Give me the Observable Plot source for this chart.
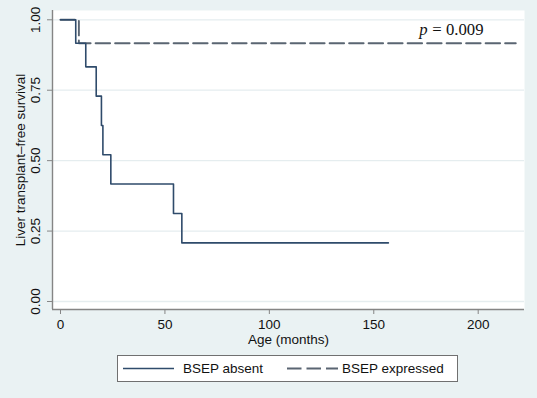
<!DOCTYPE html>
<html><head><meta charset="utf-8">
<script src="https://cdn.jsdelivr.net/npm/d3@7"></script>
<script src="https://cdn.jsdelivr.net/npm/@observablehq/plot@0.6"></script>
<style>
html,body{margin:0;padding:0;background:#eaf2f3;}
#wrap{position:relative;width:537px;height:398px;overflow:hidden;font-family:"Liberation Sans",Arial,sans-serif;}
#chart svg{display:block;}
#legend{position:absolute;left:117px;top:355px;width:341px;height:27px;box-sizing:border-box;border:1px solid #707070;background:#fff;font-size:13.5px;color:#111;}
.sw{position:absolute;top:0;}
.lab{position:absolute;top:0;line-height:25px;white-space:nowrap;}
</style></head><body>
<div id="wrap"><div id="chart"></div><div id="legend"></div></div>
<script>
// ---- data ----
const seriesNames = ["BSEP absent", "BSEP expressed"];
const absentMonths = [0, 7.3, 12.1, 17.1, 19.6, 20.3, 24.1, 54.1, 58.1, 157];
const absentSurvival = [1, 0.917, 0.833, 0.729, 0.625, 0.521, 0.417, 0.3125, 0.208, 0.208];
const expressedMonths = [0, 8.8, 218];
const expressedSurvival = [1, 0.917, 0.917];
const xTicks = [0, 50, 100, 150, 200];
const yTicks = [0, 0.25, 0.5, 0.75, 1];
const xLabel = "Age (months)";
const yLabel = "Liver transplant\u2013free survival";
const pName = "p";
const pValueText = "= 0.009";

// ---- styles ----
const axisColor = "#858585";
const solidColor = "#2f4b6b";
const dashColor = "#5a6572";
const dashPattern = "14.5,5";
const sans = "'Liberation Sans', Arial, sans-serif";
const serif = "'Liberation Serif', 'Times New Roman', serif";
const xDomain = [-3.83, 222.17];
const yDomain = [-0.0284, 1.033];

const absent = absentMonths.map((m, i) => ({month: m, survival: absentSurvival[i], group: seriesNames[0]}));
const expressed = expressedMonths.map((m, i) => ({month: m, survival: expressedSurvival[i], group: seriesNames[1]}));

const chart = Plot.plot({
  width: 537, height: 350,
  marginLeft: 52, marginRight: 13, marginTop: 10, marginBottom: 41,
  style: {background: "transparent", fontFamily: sans, fontSize: "13.5px", color: "#111", overflow: "visible"},
  x: {domain: xDomain},
  y: {domain: yDomain},
  marks: [
    Plot.frame({fill: "white", stroke: "none"}),
    Plot.gridY(yTicks, {stroke: "#e5edef", strokeOpacity: 1, strokeWidth: 1.3}),
    Plot.ruleX([xDomain[0]], {stroke: axisColor, strokeWidth: 1.4}),
    Plot.ruleY([yDomain[0]], {stroke: axisColor, strokeWidth: 1.4}),
    Plot.axisY(yTicks, {tickSize: 5, tickFormat: () => "", stroke: axisColor, label: null}),
    Plot.text(yTicks, {y: d => d, frameAnchor: "left", dx: -17, rotate: -90, text: d3.format(".2f"),
      textAnchor: "middle", lineAnchor: "middle", fontSize: 13.5, fill: "#111"}),
    Plot.text([yLabel], {frameAnchor: "left", dx: -32, rotate: -90, text: d => d,
      textAnchor: "middle", lineAnchor: "middle", fontSize: 13.5, fill: "#111"}),
    Plot.axisX(xTicks, {tickSize: 5, tickPadding: 5, label: null, stroke: axisColor, fill: "#111", fontSize: 13.5}),
    Plot.text([xLabel], {frameAnchor: "bottom", dy: 34.5, lineAnchor: "bottom", text: d => d, fontSize: 13.5, fill: "#111"}),
    Plot.line(expressed, {x: "month", y: "survival", curve: "step-after", stroke: dashColor,
      strokeWidth: 1.9, strokeDasharray: dashPattern}),
    Plot.line(absent, {x: "month", y: "survival", curve: "step-after", stroke: solidColor, strokeWidth: 1.6}),
    Plot.text([pValueText], {frameAnchor: "top-right", dx: -41, dy: 24, textAnchor: "end", lineAnchor: "bottom",
      text: d => d, fontFamily: serif, fontSize: 16.7, fill: "#111"}),
    Plot.text([pName], {frameAnchor: "top-right", dx: -97, dy: 24, textAnchor: "end", lineAnchor: "bottom",
      text: d => d, fontFamily: serif, fontSize: 16.7, fontStyle: "italic", fill: "#111"})
  ]
});
document.getElementById("chart").appendChild(chart);

// ---- legend ----
const legend = d3.select("#legend");
const items = [
  {name: seriesNames[0], color: solidColor, dash: null, width: 1.6, swLeft: 5, labLeft: 65},
  {name: seriesNames[1], color: dashColor, dash: dashPattern, width: 1.9, swLeft: 169, labLeft: 224}
];
items.forEach(it => {
  const svg = legend.append("svg").attr("class", "sw").attr("width", 52).attr("height", 25)
    .style("left", it.swLeft + "px");
  svg.append("line").attr("x1", 0).attr("x2", 51).attr("y1", 12.5).attr("y2", 12.5)
    .attr("stroke", it.color).attr("stroke-width", it.width)
    .attr("stroke-dasharray", it.dash);
  legend.append("div").attr("class", "lab").style("left", it.labLeft + "px").text(it.name);
});
</script>
</body></html>
